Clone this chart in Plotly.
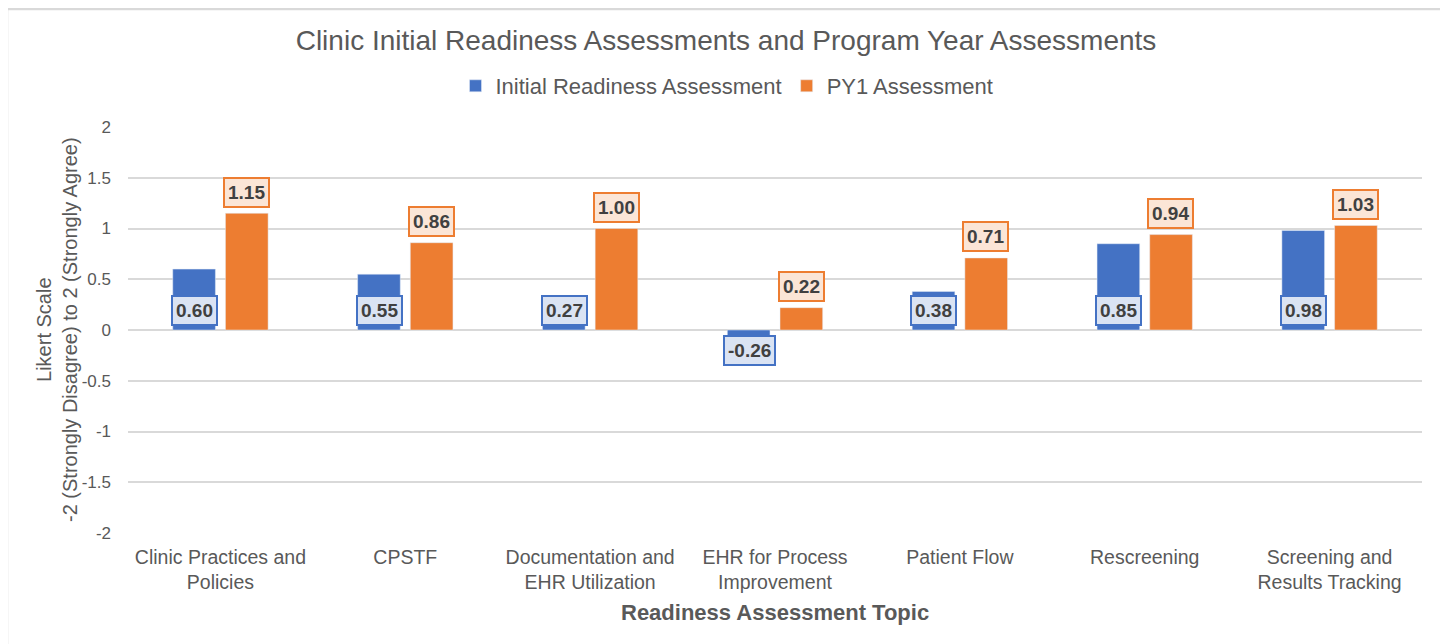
import plotly.graph_objects as go

categories = ["Clinic Practices and<br>Policies", "CPSTF", "Documentation and<br>EHR Utilization",
              "EHR for Process<br>Improvement", "Patient Flow", "Rescreening",
              "Screening and<br>Results Tracking"]
initial = [0.60, 0.55, 0.27, -0.26, 0.38, 0.85, 0.98]
py1 = [1.15, 0.86, 1.00, 0.22, 0.71, 0.94, 1.03]
series_names = ["Initial Readiness Assessment", "PY1 Assessment"]
y_ticks = [2, 1.5, 1, 0.5, 0, -0.5, -1, -1.5, -2]

BLUE = "#4472C4"
ORANGE = "#ED7D31"
FONT = "Arial, Liberation Sans, sans-serif"

# page body has an 8px margin; figure is sized so it fits the 1448x644 window
OFF = 8
W, H = 1448 - OFF, 644 - OFF
PL, PR, PT, PB = 128, 1422, 127, 533  # plot area in window pixels


def px(xabs):
    return (xabs - PL) / (PR - PL)


def py(yabs):
    return (PB - yabs) / (PB - PT)


fig = go.Figure()
fig.add_trace(go.Bar(x=categories, y=initial, name=series_names[0], marker_color=BLUE))
fig.add_trace(go.Bar(x=categories, y=py1, name=series_names[1], marker_color=ORANGE))

annotations = []
for c, v in zip(categories, initial):
    annotations.append(dict(
        x=c, y=0, xref="x", yref="y", text=f"<b>{v:.2f}</b>", showarrow=False,
        xshift=-26, yshift=20 if v >= 0 else -20, yanchor="middle",
        font=dict(family=FONT, size=19, color="#404040"),
        bgcolor="#DAE3F3", bordercolor=BLUE, borderwidth=2, borderpad=3))
for c, v in zip(categories, py1):
    annotations.append(dict(
        x=c, y=v, xref="x", yref="y", text=f"<b>{v:.2f}</b>", showarrow=False,
        xshift=26, yshift=21, yanchor="middle",
        font=dict(family=FONT, size=19, color="#404040"),
        bgcolor="#FBE5D6", bordercolor=ORANGE, borderwidth=2, borderpad=3))

annotations.append(dict(
    x=px(775), y=py(612), xref="paper", yref="paper", showarrow=False,
    text="<b>Readiness Assessment Topic</b>", yanchor="middle", xanchor="center",
    font=dict(family=FONT, size=22, color="#595959")))
annotations.append(dict(
    x=px(57), y=py(330), xref="paper", yref="paper", showarrow=False,
    text="Likert Scale<br>-2 (Strongly Disagree) to 2 (Strongly Agree)", textangle=-90,
    xanchor="center", yanchor="middle",
    font=dict(family=FONT, size=20, color="#595959")))

fig.update_layout(
    width=W, height=H,
    margin=dict(l=PL - OFF, r=W - (PR - OFF), t=PT - OFF, b=H - (PB - OFF)),
    paper_bgcolor="white", plot_bgcolor="white",
    barmode="group", bargap=0.43, bargroupgap=0.19,
    title=dict(text="Clinic Initial Readiness Assessments and Program Year Assessments",
               x=px(726) * (PR - PL) / W + (PL - OFF) / W, xanchor="center",
               y=1 - (40 - OFF) / H, yanchor="middle",
               font=dict(family=FONT, size=28, color="#595959")),
    legend=dict(orientation="h", x=px(727), xanchor="center", y=py(86), yanchor="middle",
                font=dict(family=FONT, size=22, color="#595959"),
                bgcolor="rgba(0,0,0,0)", itemwidth=30),
    font=dict(family=FONT, color="#595959"),
    xaxis=dict(showgrid=False, showline=False, ticks="", ticklabelstandoff=10,
               tickfont=dict(size=19.5, color="#595959")),
    yaxis=dict(range=[-2, 2], tickvals=y_ticks, ticktext=[f"{t:g}" for t in y_ticks],
               showgrid=True, gridcolor="#D9D9D9", gridwidth=1.5,
               zeroline=True, zerolinecolor="#D9D9D9", zerolinewidth=1.5,
               showline=False, ticklabelstandoff=16,
               tickfont=dict(size=17, color="#595959")),
    annotations=annotations,
    shapes=[dict(type="rect", xref="paper", yref="paper",
                 x0=px(7), x1=px(1443), y0=py(700), y1=py(OFF + 1),
                 line=dict(color="#D9D9D9", width=2.5), fillcolor="rgba(0,0,0,0)", layer="below")],
)

fig.write_html("out.html")
